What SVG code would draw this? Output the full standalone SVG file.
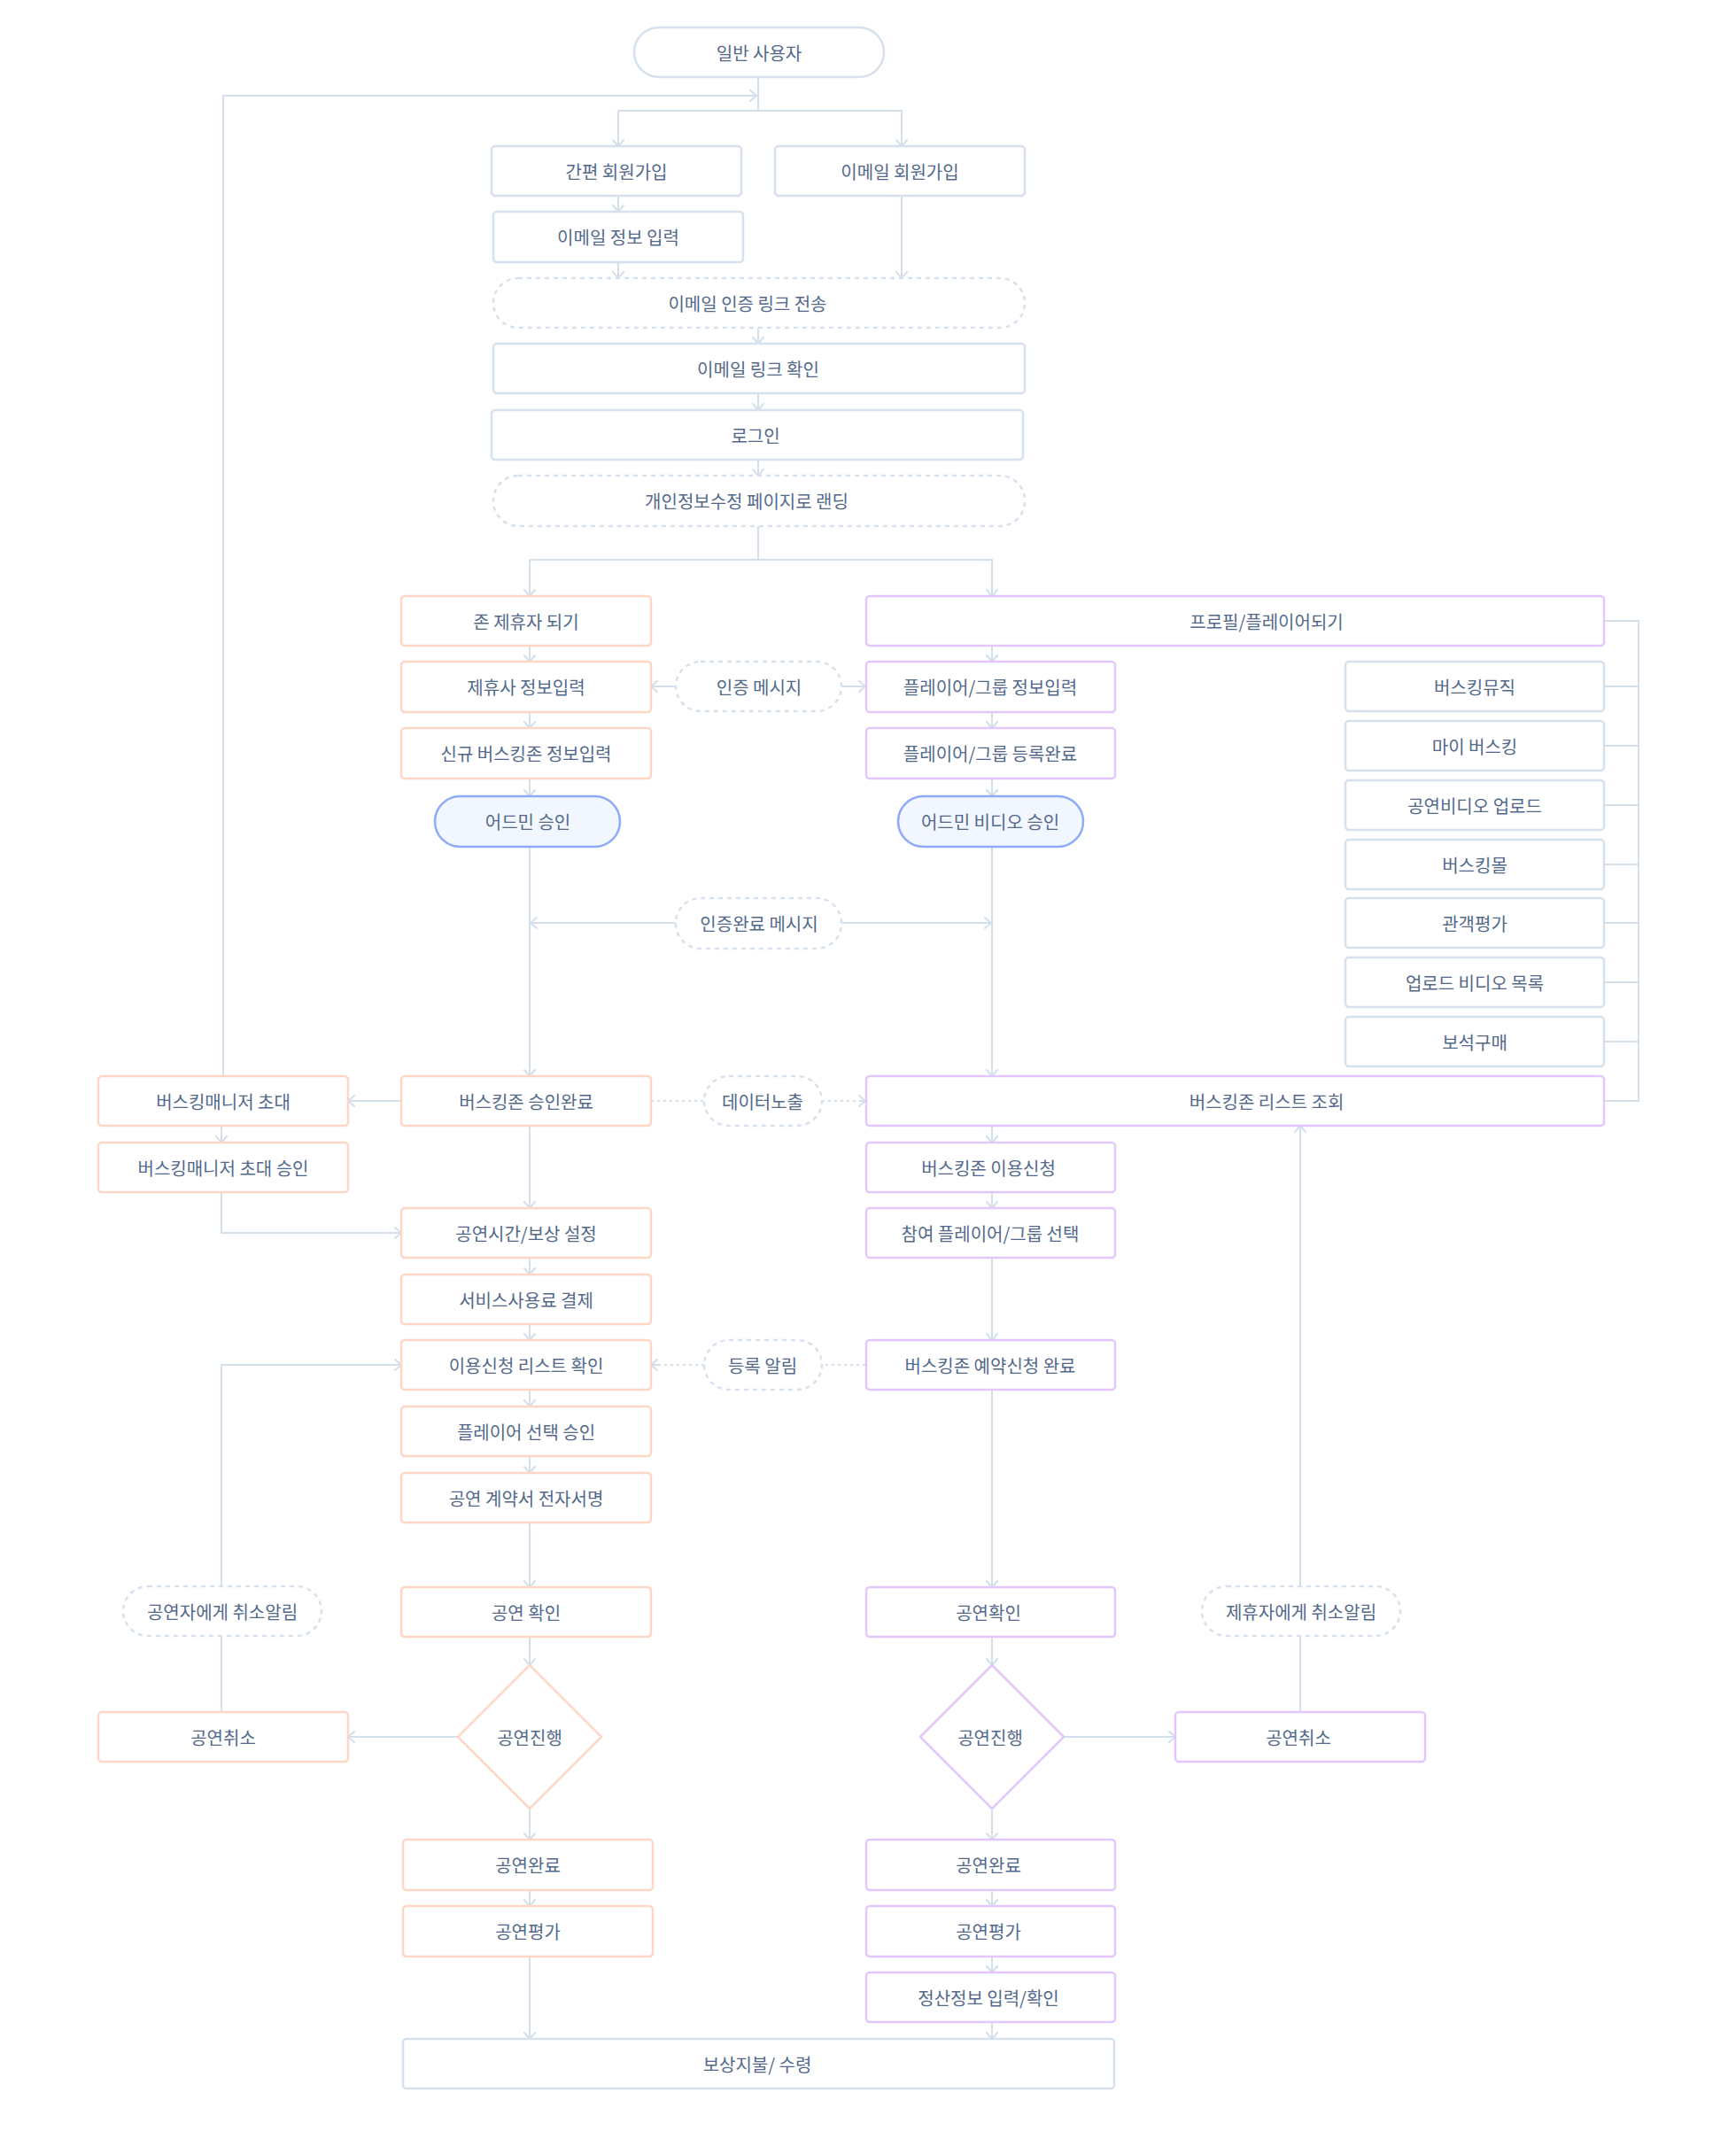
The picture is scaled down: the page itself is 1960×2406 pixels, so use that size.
<svg xmlns="http://www.w3.org/2000/svg" width="1960" height="2406" viewBox="0 0 1960 2406">
<defs>
<marker id="ah" markerUnits="userSpaceOnUse" markerWidth="16" markerHeight="16" refX="9" refY="7" orient="auto">
<path d="M2,1 L9,7 L2,13" fill="none" stroke="#d3dfeb" stroke-width="2" stroke-linecap="round" stroke-linejoin="round"/>
</marker>
<style>
.n{fill:#fff;stroke:#d6e1ed;stroke-width:2.5}
.o{fill:#fff;stroke:#fdd6c6;stroke-width:2.5}
.p{fill:#fff;stroke:#e3c7fc;stroke-width:2.5}
.a{fill:#f2f6ff;stroke:#8eabf7;stroke-width:2.5}
.d{fill:#fff;stroke:#d6e1ed;stroke-width:2.5;stroke-dasharray:5 5}
.t{font-family:"Noto Sans CJK KR","Noto Sans",sans-serif;font-size:20px;fill:#52698b;text-anchor:middle;dominant-baseline:central}
.c{fill:none;stroke:#d3dfeb;stroke-width:2}
.ca{fill:none;stroke:#d3dfeb;stroke-width:2;marker-end:url(#ah)}
.dt{fill:none;stroke:#d3dfeb;stroke-width:2;stroke-dasharray:3 4}
</style>
</defs>
<rect width="1960" height="2406" fill="#fff"/>
<g id="connectors">
<path class="c" d="M856,87 V125"/>
<path class="ca" d="M252,1215 V108 H854"/>
<path class="ca" d="M698,125 H1018 V165"/>
<path class="ca" d="M698,125 V165"/>
<path class="ca" d="M698,221 V239"/>
<path class="ca" d="M698,296 V314"/>
<path class="ca" d="M1018,221 V314"/>
<path class="ca" d="M856,370 V388"/>
<path class="ca" d="M856,444 V463"/>
<path class="ca" d="M856,519 V537"/>
<path class="c" d="M856,594 V632"/>
<path class="ca" d="M598,632 H1120 V673"/>
<path class="ca" d="M598,632 V673"/>
<path class="ca" d="M598,729 V747"/>
<path class="ca" d="M598,804 V822"/>
<path class="ca" d="M598,879 V899"/>
<path class="ca" d="M598,956 V1215"/>
<path class="ca" d="M1120,729 V747"/>
<path class="ca" d="M1120,804 V822"/>
<path class="ca" d="M1120,879 V899"/>
<path class="ca" d="M1120,956 V1215"/>
<path class="ca" d="M763,775 H735"/>
<path class="ca" d="M950,775 H977"/>
<path class="ca" d="M763,1042 H599"/>
<path class="ca" d="M950,1042 H1119"/>
<path class="c" d="M1811,701 H1850 V1243 H1811 M1811,775 H1850 M1811,842 H1850 M1811,909 H1850 M1811,976 H1850 M1811,1042 H1850 M1811,1109 H1850 M1811,1176 H1850"/>
<path class="ca" d="M453,1243 H393"/>
<path class="dt" d="M735,1243 H795"/>
<path class="dt" d="M928,1243 H970"/>
<path class="ca" d="M970,1243 H977"/>
<path class="ca" d="M250,1271 V1290"/>
<path class="ca" d="M250,1346 V1392 H453"/>
<path class="ca" d="M598,1271 V1364"/>
<path class="ca" d="M598,1420 V1439"/>
<path class="ca" d="M598,1495 V1513"/>
<path class="ca" d="M598,1569 V1588"/>
<path class="ca" d="M598,1644 V1663"/>
<path class="ca" d="M598,1719 V1792"/>
<path class="ca" d="M598,1848 V1880"/>
<path class="ca" d="M1120,1271 V1290"/>
<path class="ca" d="M1120,1346 V1364"/>
<path class="ca" d="M1120,1420 V1513"/>
<path class="dt" d="M977,1541 H928"/>
<path class="dt" d="M795,1541 H744"/>
<path class="ca" d="M744,1541 H735"/>
<path class="ca" d="M250,1933 V1541 H453"/>
<path class="ca" d="M1120,1569 V1792"/>
<path class="ca" d="M1120,1848 V1880"/>
<path class="ca" d="M1468,1933 V1271"/>
<path class="ca" d="M517,1961 H393"/>
<path class="ca" d="M1201,1961 H1327"/>
<path class="ca" d="M598,2042 V2077"/>
<path class="ca" d="M598,2134 V2152"/>
<path class="ca" d="M598,2209 V2302"/>
<path class="ca" d="M1120,2042 V2077"/>
<path class="ca" d="M1120,2134 V2152"/>
<path class="ca" d="M1120,2209 V2227"/>
<path class="ca" d="M1120,2283 V2302"/>
</g>
<g id="n-user"><rect class="n" x="716" y="31" width="282" height="56" rx="28"/><text class="t" x="857" y="59">일반 사용자</text></g>
<g id="n-simple"><rect class="n" x="555" y="165" width="282" height="56" rx="4"/><text class="t" x="696" y="193">간편 회원가입</text></g>
<g id="n-emailjoin"><rect class="n" x="875" y="165" width="282" height="56" rx="4"/><text class="t" x="1016" y="193">이메일 회원가입</text></g>
<g id="n-emailinfo"><rect class="n" x="557" y="239" width="282" height="57" rx="4"/><text class="t" x="698" y="267">이메일 정보 입력</text></g>
<g id="n-sendlink"><rect class="d" x="557" y="314" width="600" height="56" rx="28"/><text class="t" x="844" y="342">이메일 인증 링크 전송</text></g>
<g id="n-checklink"><rect class="n" x="557" y="388" width="600" height="56" rx="4"/><text class="t" x="856" y="416">이메일 링크 확인</text></g>
<g id="n-login"><rect class="n" x="555" y="463" width="600" height="56" rx="4"/><text class="t" x="853" y="491">로그인</text></g>
<g id="n-landing"><rect class="d" x="557" y="537" width="600" height="57" rx="28"/><text class="t" x="843" y="565">개인정보수정 페이지로 랜딩</text></g>

<g id="n-partner"><rect class="o" x="453" y="673" width="282" height="56" rx="4"/><text class="t" x="594" y="701">존 제휴자 되기</text></g>
<g id="n-partnerinfo"><rect class="o" x="453" y="747" width="282" height="57" rx="4"/><text class="t" x="594" y="775">제휴사 정보입력</text></g>
<g id="n-newzone"><rect class="o" x="453" y="822" width="282" height="57" rx="4"/><text class="t" x="594" y="850">신규 버스킹존 정보입력</text></g>
<g id="n-admin"><rect class="a" x="491" y="899" width="209" height="57" rx="28.5"/><text class="t" x="596" y="927">어드민 승인</text></g>
<g id="n-authmsg"><rect class="d" x="763" y="747" width="187" height="56" rx="28"/><text class="t" x="857" y="775">인증 메시지</text></g>
<g id="n-authdone"><rect class="d" x="763" y="1014" width="187" height="57" rx="28"/><text class="t" x="857" y="1042">인증완료 메시지</text></g>

<g id="n-profile"><rect class="p" x="978" y="673" width="833" height="56" rx="4"/><text class="t" x="1430" y="701">프로필/플레이어되기</text></g>
<g id="n-playerinfo"><rect class="p" x="978" y="747" width="281" height="57" rx="4"/><text class="t" x="1118" y="775">플레이어/그룹 정보입력</text></g>
<g id="n-playerdone"><rect class="p" x="978" y="822" width="281" height="57" rx="4"/><text class="t" x="1118" y="850">플레이어/그룹 등록완료</text></g>
<g id="n-adminvideo"><rect class="a" x="1014" y="899" width="209" height="57" rx="28.5"/><text class="t" x="1118" y="927">어드민 비디오 승인</text></g>

<g id="n-m1"><rect class="n" x="1519" y="747" width="292" height="56" rx="4"/><text class="t" x="1665" y="775">버스킹뮤직</text></g>
<g id="n-m2"><rect class="n" x="1519" y="814" width="292" height="56" rx="4"/><text class="t" x="1665" y="842">마이 버스킹</text></g>
<g id="n-m3"><rect class="n" x="1519" y="881" width="292" height="56" rx="4"/><text class="t" x="1665" y="909">공연비디오 업로드</text></g>
<g id="n-m4"><rect class="n" x="1519" y="948" width="292" height="56" rx="4"/><text class="t" x="1665" y="976">버스킹몰</text></g>
<g id="n-m5"><rect class="n" x="1519" y="1014" width="292" height="56" rx="4"/><text class="t" x="1665" y="1042">관객평가</text></g>
<g id="n-m6"><rect class="n" x="1519" y="1081" width="292" height="56" rx="4"/><text class="t" x="1665" y="1109">업로드 비디오 목록</text></g>
<g id="n-m7"><rect class="n" x="1519" y="1148" width="292" height="56" rx="4"/><text class="t" x="1665" y="1176">보석구매</text></g>

<g id="n-invite"><rect class="o" x="111" y="1215" width="282" height="56" rx="4"/><text class="t" x="252" y="1243">버스킹매니저 초대</text></g>
<g id="n-inviteok"><rect class="o" x="111" y="1290" width="282" height="56" rx="4"/><text class="t" x="252" y="1318">버스킹매니저 초대 승인</text></g>
<g id="n-zoneok"><rect class="o" x="453" y="1215" width="282" height="56" rx="4"/><text class="t" x="594" y="1243">버스킹존 승인완료</text></g>
<g id="n-expose"><rect class="d" x="795" y="1215" width="133" height="56" rx="28"/><text class="t" x="861" y="1243">데이터노출</text></g>
<g id="n-zonelist"><rect class="p" x="978" y="1215" width="833" height="56" rx="4"/><text class="t" x="1430" y="1243">버스킹존 리스트 조회</text></g>
<g id="n-apply"><rect class="p" x="978" y="1290" width="281" height="56" rx="4"/><text class="t" x="1116" y="1318">버스킹존 이용신청</text></g>
<g id="n-select"><rect class="p" x="978" y="1364" width="281" height="56" rx="4"/><text class="t" x="1118" y="1392">참여 플레이어/그룹 선택</text></g>
<g id="n-time"><rect class="o" x="453" y="1364" width="282" height="56" rx="4"/><text class="t" x="594" y="1392">공연시간/보상 설정</text></g>
<g id="n-pay"><rect class="o" x="453" y="1439" width="282" height="56" rx="4"/><text class="t" x="594" y="1467">서비스사용료 결제</text></g>
<g id="n-applist"><rect class="o" x="453" y="1513" width="282" height="56" rx="4"/><text class="t" x="594" y="1541">이용신청 리스트 확인</text></g>
<g id="n-regnoti"><rect class="d" x="795" y="1513" width="133" height="56" rx="28"/><text class="t" x="861" y="1541">등록 알림</text></g>
<g id="n-reserve"><rect class="p" x="978" y="1513" width="281" height="56" rx="4"/><text class="t" x="1118" y="1541">버스킹존 예약신청 완료</text></g>
<g id="n-playerok"><rect class="o" x="453" y="1588" width="282" height="56" rx="4"/><text class="t" x="594" y="1616">플레이어 선택 승인</text></g>
<g id="n-contract"><rect class="o" x="453" y="1663" width="282" height="56" rx="4"/><text class="t" x="594" y="1691">공연 계약서 전자서명</text></g>

<g id="n-cancelnoti-l"><rect class="d" x="139" y="1791" width="224" height="56" rx="28"/><text class="t" x="251" y="1819">공연자에게 취소알림</text></g>
<g id="n-confirm-l"><rect class="o" x="453" y="1792" width="282" height="56" rx="4"/><text class="t" x="594" y="1820">공연 확인</text></g>
<g id="n-confirm-r"><rect class="p" x="978" y="1792" width="281" height="56" rx="4"/><text class="t" x="1116" y="1820">공연확인</text></g>
<g id="n-cancelnoti-r"><rect class="d" x="1357" y="1791" width="224" height="56" rx="28"/><text class="t" x="1469" y="1819">제휴자에게 취소알림</text></g>

<g id="n-cancel-l"><rect class="o" x="111" y="1933" width="282" height="56" rx="4"/><text class="t" x="252" y="1961">공연취소</text></g>
<g id="n-prog-l"><path class="o" d="M598,1880 L679,1961 L598,2042 L517,1961 Z" stroke-linejoin="round"/><text class="t" x="598" y="1961">공연진행</text></g>
<g id="n-prog-r"><path class="p" d="M1120,1880 L1201,1961 L1120,2042 L1039,1961 Z" stroke-linejoin="round"/><text class="t" x="1118" y="1961">공연진행</text></g>
<g id="n-cancel-r"><rect class="p" x="1327" y="1933" width="282" height="56" rx="4"/><text class="t" x="1466" y="1961">공연취소</text></g>

<g id="n-done-l"><rect class="o" x="455" y="2077" width="282" height="57" rx="4"/><text class="t" x="596" y="2105">공연완료</text></g>
<g id="n-eval-l"><rect class="o" x="455" y="2152" width="282" height="57" rx="4"/><text class="t" x="596" y="2180">공연평가</text></g>
<g id="n-done-r"><rect class="p" x="978" y="2077" width="281" height="57" rx="4"/><text class="t" x="1116" y="2105">공연완료</text></g>
<g id="n-eval-r"><rect class="p" x="978" y="2152" width="281" height="57" rx="4"/><text class="t" x="1116" y="2180">공연평가</text></g>
<g id="n-settle"><rect class="p" x="978" y="2227" width="281" height="56" rx="4"/><text class="t" x="1116" y="2255">정산정보 입력/확인</text></g>
<g id="n-reward"><rect class="n" x="455" y="2302" width="803" height="56" rx="4"/><text class="t" x="855" y="2330">보상지불/ 수령</text></g>
</svg>
